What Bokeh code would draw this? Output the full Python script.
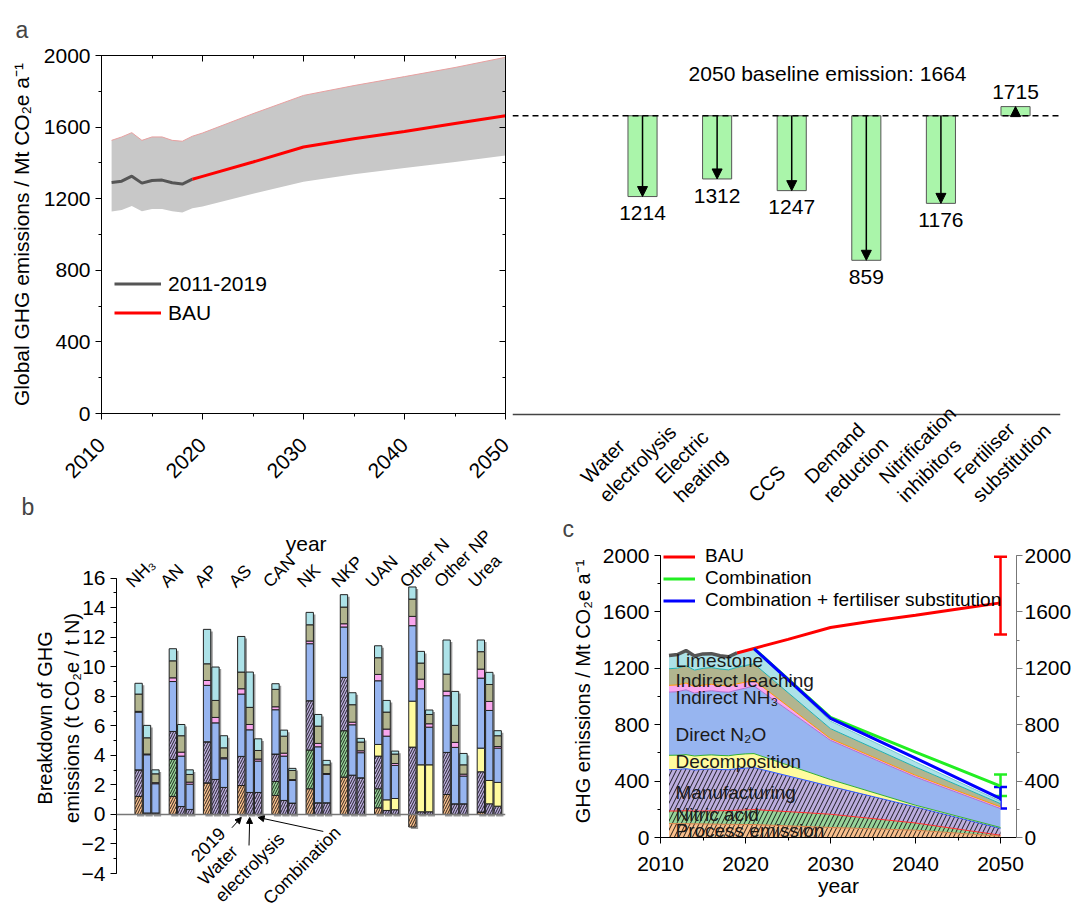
import math
from bokeh.plotting import figure
from bokeh.models import (ColumnDataSource, Label, Span, Arrow, NormalHead, Title,
                          LinearAxis, SingleIntervalTicker, Range1d, CustomJSTickFormatter,
                          Legend, LegendItem, Whisker, TeeHead)
from bokeh.layouts import row, column
from bokeh.transform import stack
from bokeh.embed import file_html
from bokeh.resources import INLINE

FONT = "Liberation Sans"

# ---------------- Panel a (left): global emissions ----------------
hist_years = [2011, 2012, 2013, 2014, 2015, 2016, 2017, 2018, 2019]
hist_vals = [1291, 1298, 1326, 1287, 1302, 1304, 1289, 1282, 1309]
bau_years = [2019, 2020, 2025, 2030, 2035, 2040, 2045, 2050]
bau_vals = [1309, 1325, 1405, 1489, 1535, 1576, 1620, 1664]
band_years = [2011, 2012, 2013, 2014, 2015, 2016, 2017, 2018, 2019, 2020, 2025, 2030, 2035, 2040, 2045, 2050]
band_upper = [1526, 1545, 1569, 1526, 1545, 1545, 1526, 1521, 1549, 1567, 1675, 1777, 1832, 1882, 1933, 1990]
band_lower = [1128, 1137, 1159, 1130, 1143, 1143, 1130, 1123, 1147, 1156, 1228, 1294, 1337, 1372, 1405, 1441]

# ---------------- Panel a (right): mitigation measures ----------------
measures = ["Water\nelectrolysis", "Electric\nheating", "CCS", "Demand\nreduction",
            "Nitrification\ninhibitors", "Fertiliser\nsubstitution"]
measure_vals = [1214, 1312, 1247, 859, 1176, 1715]
baseline_2050 = 1664

# ---------------- Panel b: breakdown per product ----------------
products = ["NH\u2083", "AN", "AP", "AS", "CAN", "NK", "NKP", "UAN", "Other N", "Other NP", "Urea"]
scenarios = ["2019", "Water\nelectrolysis", "Combination"]

proc_2019 = [1.22, 1.22, 2.14, 1.96, 1.29, 1.74, 2.53, 0.45, -0.85, 1.35, 0.16]
nitric_2019 = [0, 2.50, 0, 0, 0.94, 2.62, 3.14, 1.29, 0, 0, 0]
manuf_2019 = [1.80, 1.90, 2.78, 1.97, 1.86, 3.34, 3.61, 2.21, 4.56, 2.85, 2.73]
decomp_2019 = [0, 0, 0, 0, 0, 0, 0, 0.79, 3.11, 0, 1.60]
direct_2019 = [3.91, 3.38, 3.82, 4.22, 3.00, 3.86, 3.41, 4.31, 5.11, 3.84, 4.74]
indnh3_2019 = [0.05, 0.25, 0.33, 0.36, 0.20, 0.18, 0.22, 0.43, 0.63, 0.31, 0.61]
leach_2019 = [1.17, 1.15, 1.13, 1.13, 1.18, 1.10, 1.13, 1.13, 1.17, 1.15, 1.18]
lime_2019 = [0.73, 0.82, 2.33, 2.41, 0.38, 0.84, 0.84, 0.81, 0.82, 2.31, 0.79]

proc_we = [0, 0, 0, 0, 0, 0, 0, 0, 0, 0, 0]
nitric_we = [0, 0, 0, 0, 0, 0, 0, 0, 0, 0, 0]
manuf_we = [0.10, 0.54, 2.37, 1.49, 0.95, 0.79, 2.66, 0.27, 0.18, 0.72, 0.72]
decomp_we = [0, 0, 0, 0, 0, 0, 0, 0.72, 3.18, 0, 1.58]
direct_we = [3.94, 3.41, 3.83, 4.24, 3.00, 3.79, 3.41, 4.31, 5.15, 3.82, 4.74]
indnh3_we = [0.05, 0.27, 0.37, 0.36, 0.20, 0.23, 0.18, 0.48, 0.65, 0.34, 0.61]
leach_we = [1.10, 1.11, 1.15, 1.16, 1.15, 1.17, 1.18, 1.15, 1.09, 1.15, 1.15]
lime_we = [0.84, 0.76, 2.26, 2.39, 0.41, 0.79, 0.81, 0.79, 0.79, 2.30, 0.82]

proc_comb = [0, 0, 0, 0, 0, 0, 0, 0, 0, 0, 0]
nitric_comb = [0, 0, 0, 0, 0, 0, 0, 0, 0, 0, 0]
manuf_comb = [0.10, 0.34, 1.83, 1.49, 0.77, 0.79, 2.48, 0.32, 0.18, 0.72, 0.56]
decomp_comb = [0, 0, 0, 0, 0, 0, 0, 0.76, 3.18, 0, 1.61]
direct_comb = [1.98, 1.71, 1.94, 2.12, 1.53, 1.92, 1.70, 2.24, 2.55, 1.88, 2.32]
indnh3_comb = [0.07, 0.14, 0.07, 0.14, 0.06, 0.06, 0.13, 0.13, 0.23, 0.13, 0.11]
leach_comb = [0.60, 0.52, 0.67, 0.58, 0.62, 0.59, 0.59, 0.64, 0.63, 0.63, 0.73]
lime_comb = [0.27, 0.31, 0.82, 0.79, 0.14, 0.30, 0.25, 0.20, 0.30, 0.77, 0.34]

# ---------------- Panel c: pathway ----------------
layer_names = ["Process emission", "Nitric acid", "Manufacturing", "Decomposition",
               "Direct N\u2082O", "Indirect NH\u2083", "Indirect leaching", "Limestone"]
c_years = [2011, 2012, 2013, 2014, 2015, 2016, 2017, 2018, 2019, 2020, 2021, 2030, 2040, 2050]
c_process = [99, 98, 98, 97, 96, 95, 94, 93, 93, 92, 92, 71, 52, 9]
c_nitric = [89, 90, 92, 90, 92, 94, 96, 98, 100, 103, 106, 94, 51, 7]
c_manuf = [293, 295, 298, 292, 295, 296, 292, 290, 295, 297, 298, 198, 114, 48]
c_decomp = [102, 101, 100, 99, 100, 101, 100, 99, 100, 101, 99, 48, 12, 7]
c_direct = [448, 450, 460, 446, 452, 455, 452, 450, 458, 467, 480, 278, 200, 134]
c_indnh3 = [48, 48, 48, 46, 46, 46, 45, 44, 44, 42, 40, 12, 12, 12]
c_leach = [118, 119, 122, 117, 119, 118, 116, 115, 117, 118, 117, 71, 59, 23]
c_lime = [94, 97, 108, 100, 102, 99, 94, 93, 102, 105, 107, 53, 36, 17]
path_years = [2021, 2030, 2040, 2050]
comb_vals = [1340, 852, 606, 365]
combfs_vals = [1340, 845, 563, 276]
err_year = [2050]
bau_err = (1440, 1992)
comb_err = (295, 446)
combfs_err = (205, 358)

# ---------------- styles ----------------
layer_colors = ["#f9c08e", "#98d49a", "#bcaede", "#fffb9e", "#97b5f0", "#f9a6ee", "#b2b58f", "#ade2e8"]
layer_hatch = ["/", "/", "/", None, None, None, None, None]
c_edge_colors = ["#d9824a", "#ff2a2a", "#2a55ff", "#33b033", "#b070d0", "#ff9900", "#22b0b0", "#70c8d0"]


def style_axis(ax, size="21px", label_size=None):
    ax.major_label_text_font = FONT
    ax.major_label_text_font_size = size
    ax.axis_label_text_font = FONT
    ax.axis_label_text_font_style = "normal"
    ax.axis_label_text_font_size = label_size or size
    ax.axis_line_color = "black"
    ax.major_tick_line_color = "black"
    ax.minor_tick_line_color = "black"
    ax.major_tick_out = 6
    ax.major_tick_in = 0
    ax.minor_tick_out = 3
    ax.minor_tick_in = 0
    ax.major_label_text_color = "black"
    ax.axis_label_text_color = "black"


def hidden_axis(ticker):
    return LinearAxis(ticker=ticker, formatter=CustomJSTickFormatter(code="return ''"),
                      major_label_standoff=0,
                      major_tick_in=6, major_tick_out=0, minor_tick_in=3, minor_tick_out=0,
                      axis_line_color="black", major_tick_line_color="black",
                      minor_tick_line_color="black")


def lab(p, x, y, text, size, align="left", baseline="middle", angle=0.0, color="black"):
    p.add_layout(Label(x=x, y=y, text=text, text_font=FONT, text_font_size=size,
                       text_align=align, text_baseline=baseline, angle=angle, text_color=color))


def letter(p, text, offset, standoff, place):
    p.add_layout(Title(text=text, align="left", offset=offset, standoff=standoff,
                       text_font=FONT, text_font_size="23px", text_font_style="normal"), place)


def base_fig(width, height, xr, yr, l, r, t, b):
    p = figure(width=width, height=height, x_range=xr, y_range=yr,
               x_axis_type=None, y_axis_type=None, output_backend="svg",
               toolbar_location=None, min_border_left=l, min_border_right=r,
               min_border_top=t, min_border_bottom=b)
    if "frame_align" in p.properties():
        p.frame_align = False
    p.background_fill_color = "white"
    p.border_fill_color = "white"
    p.outline_line_color = None
    return p


# ================= Panel a left =================
aL = base_fig(512, 524, Range1d(2010, 2050), Range1d(0, 2000), 101, 7, 55, 110)
aL.outline_line_color = "black"
xa = LinearAxis(ticker=SingleIntervalTicker(interval=10, num_minor_ticks=2),
                major_label_orientation=math.pi / 4)
style_axis(xa)
xa.major_label_standoff = 22
aL.add_layout(xa, "below")
ya = LinearAxis(ticker=SingleIntervalTicker(interval=400, num_minor_ticks=2),
                axis_label="Global GHG emissions / Mt CO\u2082e a\u207b\u00b9")
style_axis(ya)
ya.axis_label_standoff = 8
aL.add_layout(ya, "left")
aL.add_layout(hidden_axis(SingleIntervalTicker(interval=10, num_minor_ticks=2)), "above")
aL.add_layout(hidden_axis(SingleIntervalTicker(interval=400, num_minor_ticks=2)), "right")
letter(aL, "a", -86, 25, "above")
letter(aL, "b", -80, 9, "below")

aL.varea(x=band_years, y1=band_lower, y2=band_upper, fill_color="#c8c8c8")
aL.line(band_years, band_upper, line_color="#e8a0a0", line_width=1)
r_hist = aL.line(hist_years, hist_vals, line_color="#555555", line_width=3)
r_bau = aL.line(bau_years, bau_vals, line_color="#ff0000", line_width=3)
legA = Legend(items=[LegendItem(label="2011-2019", renderers=[r_hist]),
                     LegendItem(label="BAU", renderers=[r_bau])],
              location=(13, 88), border_line_color=None, background_fill_alpha=0,
              padding=0, margin=0, spacing=4, glyph_width=47, glyph_height=25,
              label_height=25, label_standoff=7, label_text_font=FONT,
              label_text_font_size="21px", label_text_color="black")
aL.add_layout(legA, "center")

# ================= Panel a right (frame covers whole canvas) =================
aR = base_fig(568, 507, Range1d(-1.743, 5.603), Range1d(-518, 2306), 0, 20, 0, 0)
aR.add_layout(Span(location=0, dimension="width", line_color="#444444", line_width=1.5))
idx = list(range(len(measures)))
bar_src = ColumnDataSource(dict(
    x=idx,
    top=[max(v, baseline_2050) for v in measure_vals],
    bottom=[min(v, baseline_2050) for v in measure_vals],
    y0=[baseline_2050] * len(measures),
    y1=measure_vals,
))
aR.vbar(x="x", width=0.39, top="top", bottom="bottom", source=bar_src,
        fill_color="#aaf5aa", line_color="#555555", line_width=1)
aR.add_layout(Span(location=baseline_2050, dimension="width", line_dash="6 4",
                   line_color="black", line_width=1.5))
aR.add_layout(Arrow(end=NormalHead(size=10, fill_color="black", line_color="black"),
                    x_start="x", y_start="y0", x_end="x", y_end="y1", source=bar_src,
                    line_width=1.5, line_color="black"))
for i, v in enumerate(measure_vals):
    if v < baseline_2050:
        lab(aR, i, v - 55, str(v), "21px", align="center", baseline="top")
    else:
        lab(aR, i, v + 40, str(v), "21px", align="center", baseline="bottom")
    lab(aR, i - 0.43, -512, measures[i], "20px", align="left", baseline="bottom", angle=math.pi / 4)
lab(aR, 2.48, 1900, f"2050 baseline emission: {baseline_2050}", "21px", align="center")

# ================= Panel b (frame spans canvas height) =================
b = base_fig(512, 387, Range1d(-0.892, 10.474), Range1d(-6.57, 19.63), 116, 7, 0, 0)
yb = LinearAxis(ticker=SingleIntervalTicker(interval=2, num_minor_ticks=2), bounds=(-4, 16),
                axis_label="Breakdown of GHG\nemissions (t CO\u2082e / t N)")
style_axis(yb, size="21px", label_size="20px")
yb.axis_label_standoff = -4
b.add_layout(yb, "left")
b.add_layout(Span(location=0, dimension="width", line_color="#777777", line_width=1.5))

scen_data = [
    [proc_2019, nitric_2019, manuf_2019, decomp_2019, direct_2019, indnh3_2019, leach_2019, lime_2019],
    [proc_we, nitric_we, manuf_we, decomp_we, direct_we, indnh3_we, leach_we, lime_we],
    [proc_comb, nitric_comb, manuf_comb, decomp_comb, direct_comb, indnh3_comb, leach_comb, lime_comb],
]
offsets = [-0.246, 0.0, 0.246]
bar_w = 0.214
keys = ["l%d" % k for k in range(8)]
for s, lists in enumerate(scen_data):
    xs = [g + offsets[s] for g in range(len(products))]
    d = {"x": xs}
    for k, lst in enumerate(lists):
        d[keys[k]] = [max(v, 0) for v in lst]
    d["neg"] = [min(v, 0) for v in lists[0]]
    # soft drop shadow behind each bar (offset by ~2 px)
    d["sx"] = [x + 0.06 for x in xs]
    d["stop"] = [sum(max(v, 0) for v in col) - 0.14 for col in zip(*lists)]
    d["sbot"] = [n - 0.14 for n in d["neg"]]
    src = ColumnDataSource(d)
    b.vbar(x="sx", width=bar_w, top="stop", bottom="sbot", source=src,
           fill_color="#9a9a9a", line_color=None)
    b.vbar(x="x", width=bar_w, top="neg", bottom=0, source=src,
           fill_color=layer_colors[0], line_color="#222222", line_width=1,
           hatch_pattern="/", hatch_color="black", hatch_scale=5, hatch_weight=0.8)
    for k in range(8):
        bottom = stack(*keys[:k]) if k > 0 else 0
        b.vbar(x="x", width=bar_w, bottom=bottom, top=stack(*keys[:k + 1]), source=src,
               fill_color=layer_colors[k], line_color="#222222", line_width=1,
               hatch_pattern=layer_hatch[k], hatch_color="black", hatch_scale=5,
               hatch_weight=0.8)

for g, name in enumerate(products):
    lab(b, g - 0.32, 15.1, name, "17.5px", align="left", baseline="bottom", angle=math.pi / 4)
lab(b, 4.65, 18.35, "year", "21px", align="center")

as_idx = products.index("AS")
arr_src = ColumnDataSource(dict(
    x0=[2.48, 2.98, 5.15], y0=[-0.9, -2.1, -1.15],
    x1=[as_idx + o for o in offsets], y1=[-0.2, -0.2, -0.2]))
b.add_layout(Arrow(end=NormalHead(size=6, fill_color="black", line_color="black"),
                   x_start="x0", y_start="y0", x_end="x1", y_end="y1", source=arr_src,
                   line_width=1, line_color="black"))
lab(b, 1.50, -3.3, scenarios[0], "18px", align="left", baseline="bottom", angle=math.pi / 4)
lab(b, 2.29, -6.2, scenarios[1], "18px", align="left", baseline="bottom", angle=math.pi / 4)
lab(b, 3.69, -6.35, scenarios[2], "18px", align="left", baseline="bottom", angle=math.pi / 4)

# ================= Panel c =================
c = base_fig(568, 404, Range1d(2010, 2051.88), Range1d(0, 2071), 148, 64, 38, 74)
letter(c, "c", -98, 8, "above")
xc = LinearAxis(ticker=SingleIntervalTicker(interval=10, num_minor_ticks=2), axis_label="year")
style_axis(xc)
xc.major_label_standoff = 13
xc.axis_label_standoff = 0
c.add_layout(xc, "below")
yc = LinearAxis(ticker=SingleIntervalTicker(interval=400, num_minor_ticks=2), bounds=(0, 2000),
                axis_label="GHG emissions / Mt CO\u2082e a\u207b\u00b9")
style_axis(yc, size="21px", label_size="20px")
yc.axis_label_standoff = 6
c.add_layout(yc, "left")
yc2 = LinearAxis(ticker=SingleIntervalTicker(interval=400, num_minor_ticks=2), bounds=(0, 2000))
style_axis(yc2)
yc2.axis_line_color = "#777777"
yc2.major_tick_line_color = "#777777"
yc2.minor_tick_line_color = "#777777"
yc2.major_label_standoff = 2
c.add_layout(yc2, "right")

c_src = ColumnDataSource(dict(year=c_years, l0=c_process, l1=c_nitric, l2=c_manuf, l3=c_decomp,
                              l4=c_direct, l5=c_indnh3, l6=c_leach, l7=c_lime))
for k in range(8):
    y1 = stack(*keys[:k]) if k > 0 else 0
    c.varea(x="year", y1=y1, y2=stack(*keys[:k + 1]), source=c_src,
            fill_color=layer_colors[k], hatch_pattern=layer_hatch[k], hatch_color="black",
            hatch_scale=9, hatch_weight=1, hatch_alpha=0.85)
for k in range(8):
    c.line(x="year", y=stack(*keys[:k + 1]), source=c_src, line_color=c_edge_colors[k], line_width=1)

c.line(hist_years, hist_vals, line_color="#555555", line_width=3.5)
r_bau_c = c.line(bau_years, bau_vals, line_color="#ff0000", line_width=3)
r_comb = c.line(path_years, comb_vals, line_color="#22ee22", line_width=3)
r_combfs = c.line(path_years, combfs_vals, line_color="#0000ff", line_width=3)

for (lo, hi), col in [(bau_err, "#ff0000"), (comb_err, "#22ee22"), (combfs_err, "#0000ff")]:
    wsrc = ColumnDataSource(dict(x=err_year, lo=[lo], hi=[hi]))
    c.add_layout(Whisker(base="x", lower="lo", upper="hi", source=wsrc, line_color=col,
                         line_width=2.5,
                         upper_head=TeeHead(size=13, line_color=col, line_width=2.5),
                         lower_head=TeeHead(size=13, line_color=col, line_width=2.5)))

area_label_y = [50, 163, 319, 538, 729, 991, 1112, 1254]
for name, yy in zip(layer_names, area_label_y):
    lab(c, 2011.76, yy, name, "19px", align="left", baseline="middle", color="#1a1a1a")

legC = Legend(items=[LegendItem(label="BAU", renderers=[r_bau_c]),
                     LegendItem(label="Combination", renderers=[r_comb]),
                     LegendItem(label="Combination + fertiliser substitution", renderers=[r_combfs])],
              location=(3, 226), border_line_color=None, background_fill_alpha=0,
              padding=0, margin=0, spacing=0, glyph_width=32, glyph_height=19,
              label_height=19, label_standoff=10, label_text_font=FONT,
              label_text_font_size="19px", label_text_line_height=1.0,
              label_text_color="black")
c.add_layout(legC, "center")

layout = row(column(aL, b), column(aR, c))
open("out.html", "w").write(file_html(layout, INLINE))
